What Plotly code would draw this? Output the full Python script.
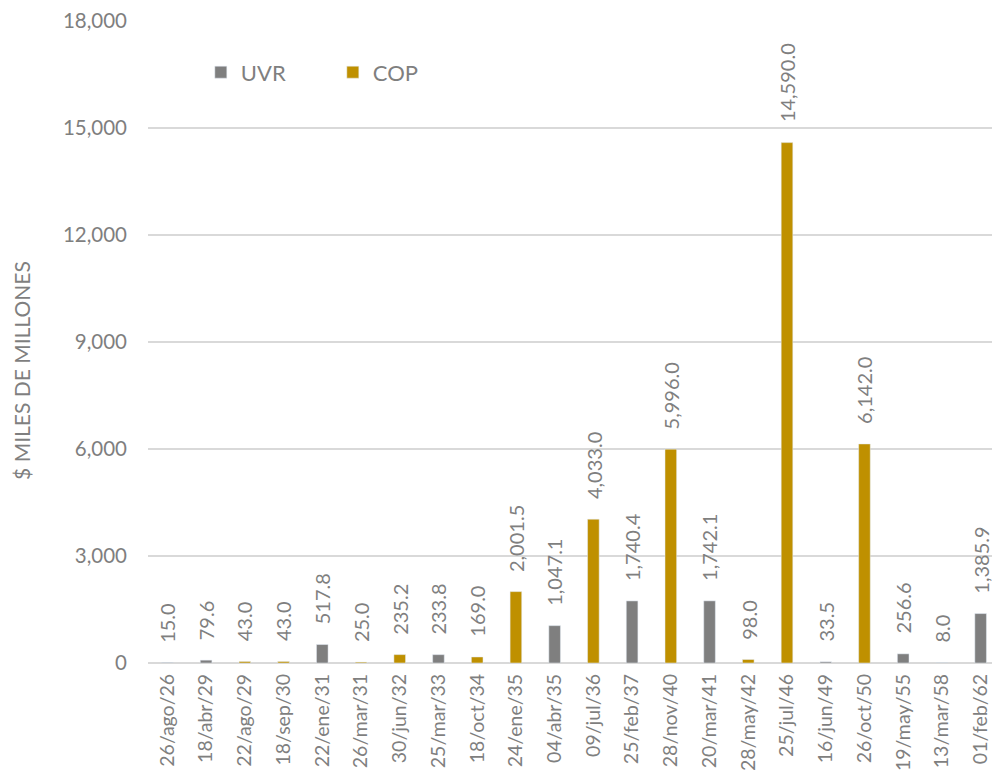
import plotly.graph_objects as go

categories = ["26/ago/26", "18/abr/29", "22/ago/29", "18/sep/30", "22/ene/31", "26/mar/31",
              "30/jun/32", "25/mar/33", "18/oct/34", "24/ene/35", "04/abr/35", "09/jul/36",
              "25/feb/37", "28/nov/40", "20/mar/41", "28/may/42", "25/jul/46", "16/jun/49",
              "26/oct/50", "19/may/55", "13/mar/58", "01/feb/62"]
uvr = [15.0, 79.6, None, None, 517.8, None, None, 233.8, None, None, 1047.1, None,
       1740.4, None, 1742.1, None, None, 33.5, None, 256.6, 8.0, 1385.9]
cop = [None, None, 43.0, 43.0, None, 25.0, 235.2, None, 169.0, 2001.5, None, 4033.0,
       None, 5996.0, None, 98.0, 14590.0, None, 6142.0, None, None, None]
y_ticks = [0, 3000, 6000, 9000, 12000, 15000, 18000]

FONT = "Lato"
GRAY = "#7f7f7f"

fig = go.Figure()
fig.add_trace(go.Bar(name="UVR", x=categories, y=uvr, marker_color="#7f7f7f",
                     width=0.3, hoverinfo="x+y"))
fig.add_trace(go.Bar(name="COP", x=categories, y=cop, marker_color="#bf9000",
                     width=0.3, hoverinfo="x+y"))

# value labels (rotated) above each bar
for series in (uvr, cop):
    for c, v in zip(categories, series):
        if v is None:
            continue
        fig.add_annotation(x=c, y=v, xref="x", yref="y", text=f"{v:,.1f}",
                           textangle=-90, showarrow=False, xanchor="center",
                           yanchor="bottom", yshift=18,
                           font=dict(family=FONT, size=20, color=GRAY))

# y-axis title
fig.add_annotation(x=0, y=0.455, xref="paper", yref="paper", xshift=-126,
                   text="$ MILES DE MILLONES", textangle=-90, showarrow=False,
                   xanchor="center", yanchor="middle",
                   font=dict(family=FONT, size=21, color=GRAY))

fig.update_layout(
    width=1000, height=776,
    barmode="overlay",
    plot_bgcolor="white", paper_bgcolor="white",
    margin=dict(l=140, r=8, t=13, b=121),
    font=dict(family=FONT, size=18, color=GRAY),
    showlegend=True,
    legend=dict(orientation="h", x=0.062, y=0.92, xanchor="left", yanchor="middle",
                font=dict(family=FONT, size=22, color=GRAY), itemwidth=30,
                traceorder="normal", entrywidthmode="pixels", entrywidth=87,
                bgcolor="rgba(0,0,0,0)"),
)
fig.update_xaxes(type="category", tickangle=-90, showgrid=False, showline=False,
                 ticks="", ticklabelstandoff=6, automargin=False,
                 tickfont=dict(family=FONT, size=19.5, color=GRAY))
fig.update_yaxes(range=[0, 18000], tickvals=y_ticks, tickformat=",",
                 showgrid=True, gridcolor="#d9d9d9", gridwidth=1.5,
                 zeroline=True, zerolinecolor="#d9d9d9", zerolinewidth=1.5,
                 ticklabelstandoff=20, automargin=False,
                 tickfont=dict(family=FONT, size=20.5, color=GRAY))

fig.write_html("out.html")
